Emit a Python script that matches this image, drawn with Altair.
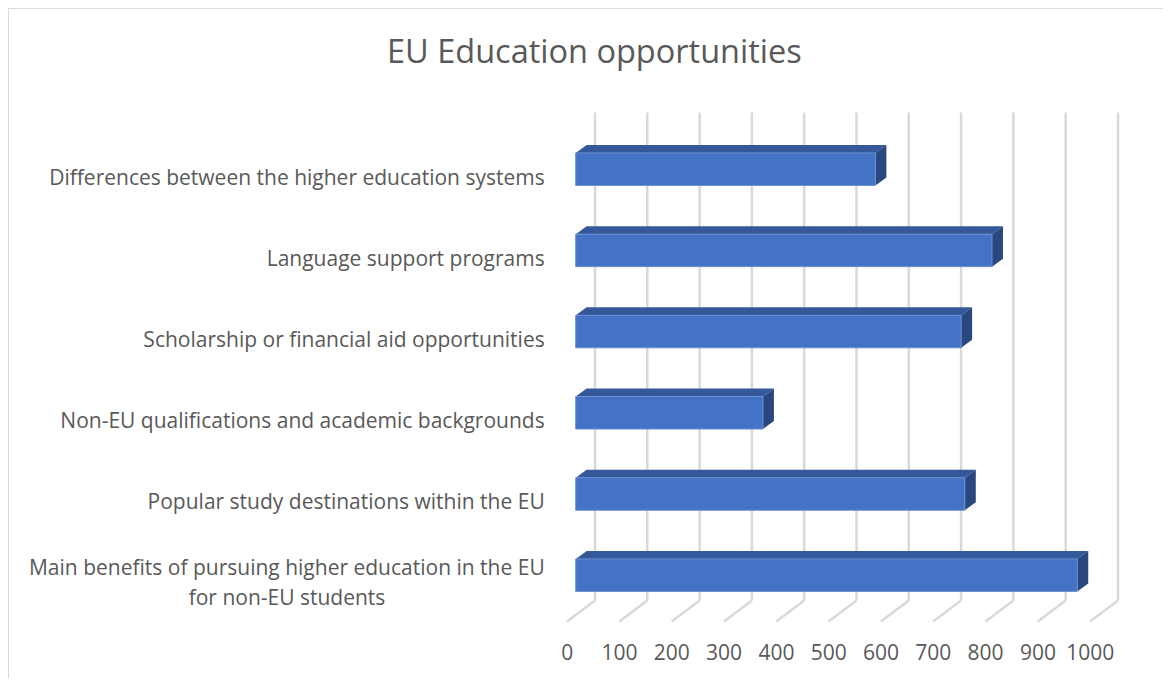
import altair as alt
import pandas as pd

categories = [
    "Differences between the higher education systems",
    "Language support programs",
    "Scholarship or financial aid opportunities",
    "Non-EU qualifications and academic backgrounds",
    "Popular study destinations within the EU",
    "Main benefits of pursuing higher education in the EU",
]
second_line = ["", "", "", "", "", "for non-EU students"]
values = [573, 796, 737, 358, 744, 959]
ticks = list(range(0, 1001, 100))

# 3-D box geometry, in axis units (x: value units, y: category slots)
BAR_DX, BAR_DY, HALF = 21.0, 0.0985, 0.2
GRID_BACK, GRID_FRONT = 36.9, -16.6
GRID_TOP, GRID_BOTTOM, FLOOR_DY = -0.697, 5.313, 0.2586

X_DOMAIN = [-1085.47, 1122.95]
Y_DOMAIN = [-1.985, 6.266]
x_scale = alt.Scale(domain=X_DOMAIN, nice=False, zero=False)
y_scale = alt.Scale(domain=Y_DOMAIN, nice=False, zero=False, reverse=True)

GRID = "#D9D9D9"
FRONT, TOP, SIDE = "#4472C4", "#34589A", "#2A4880"
TEXT = "#595959"
FONT = "Open Sans"
LABEL_SIZE = 21

bars = pd.DataFrame({"cat": categories, "line2": second_line, "v": values})
bars["s"] = range(len(bars))
bars["zero"] = 0
bars["top"] = bars.s - HALF
bars["bot"] = bars.s + HALF

grid = pd.DataFrame({"t": ticks})
grid["back"] = grid.t + GRID_BACK
grid["front"] = grid.t + GRID_FRONT
grid["y1"] = GRID_TOP
grid["y2"] = GRID_BOTTOM
grid["y3"] = GRID_BOTTOM + FLOOR_DY

top_rows, side_rows = [], []
for i, v in enumerate(values):
    top_rows.append({"i": i, "y": i - HALF, "a": 0, "b": v})
    top_rows.append({"i": i, "y": i - HALF - BAR_DY, "a": BAR_DX, "b": v + BAR_DX})
    side_rows.append({"i": i, "x": v, "a": i - HALF, "b": i + HALF})
    side_rows.append({"i": i, "x": v + BAR_DX, "a": i - HALF - BAR_DY, "b": i + HALF - BAR_DY})
top_df = pd.DataFrame(top_rows)
side_df = pd.DataFrame(side_rows)

frame_src = pd.DataFrame({"f": [0]})
frame_left = alt.Chart(frame_src).mark_rule(color=GRID, strokeWidth=2).encode(
    x=alt.value(0), y=alt.value(0), y2=alt.value(670))
frame_top = alt.Chart(frame_src).mark_rule(color=GRID, strokeWidth=2).encode(
    y=alt.value(0), x=alt.value(0), x2=alt.value(1155))

# the real x axis: ticks at value positions, labels moved onto the front of the floor
axis_layer = alt.Chart(grid).mark_point(opacity=0).encode(
    x=alt.X("t:Q", scale=x_scale, title=None,
            axis=alt.Axis(values=ticks, orient="bottom", domain=False, ticks=False, grid=False,
                          format="d", labelFont=FONT, labelFontSize=21, labelColor=TEXT,
                          labelOffset=-9, offset=-36, labelPadding=0, labelFlush=False,
                          labelOverlap=False)),
    y=alt.Y("y1:Q", scale=y_scale, axis=None),
)
grid_back = alt.Chart(grid).mark_rule(color=GRID, strokeWidth=2.5).encode(
    x=alt.X("back:Q", scale=x_scale),
    y=alt.Y("y1:Q", scale=y_scale),
    y2="y2:Q",
)
grid_floor = alt.Chart(grid).mark_rule(color=GRID, strokeWidth=2.5).encode(
    x=alt.X("back:Q", scale=x_scale),
    x2="front:Q",
    y=alt.Y("y2:Q", scale=y_scale),
    y2="y3:Q",
)
top_face = alt.Chart(top_df).mark_area(orient="horizontal", color=TOP).encode(
    y=alt.Y("y:Q", scale=y_scale),
    x=alt.X("a:Q", scale=x_scale),
    x2="b:Q",
    detail="i:N",
)
side_face = alt.Chart(side_df).mark_area(orient="vertical", color=SIDE).encode(
    x=alt.X("x:Q", scale=x_scale),
    y=alt.Y("a:Q", scale=y_scale),
    y2="b:Q",
    detail="i:N",
)
front_face = alt.Chart(bars).mark_rect(color=FRONT, stroke="#6A8FD2", strokeWidth=1).encode(
    x=alt.X("zero:Q", scale=x_scale),
    x2="v:Q",
    y=alt.Y("top:Q", scale=y_scale),
    y2="bot:Q",
)
labels = alt.Chart(bars).mark_text(
    align="right", baseline="middle", font=FONT, fontSize=LABEL_SIZE, color=TEXT, dx=-31, dy=9.5
).transform_filter("datum.s < 5").encode(
    x=alt.X("zero:Q", scale=x_scale),
    y=alt.Y("s:Q", scale=y_scale),
    text="cat:N",
)
label_main = alt.Chart(bars).mark_text(
    align="right", baseline="middle", font=FONT, fontSize=LABEL_SIZE, color=TEXT, dx=-31, dy=-6
).transform_filter("datum.s == 5").encode(
    x=alt.X("zero:Q", scale=x_scale),
    y=alt.Y("s:Q", scale=y_scale),
    text="cat:N",
)
label_second = alt.Chart(bars).mark_text(
    align="center", baseline="middle", font=FONT, fontSize=LABEL_SIZE, color=TEXT, dx=-288.7, dy=24
).transform_filter("datum.s == 5").encode(
    x=alt.X("zero:Q", scale=x_scale),
    y=alt.Y("s:Q", scale=y_scale),
    text="line2:N",
)

chart = alt.layer(
    frame_left, frame_top, axis_layer, grid_back, grid_floor, top_face, side_face, front_face,
    labels, label_main, label_second
).properties(
    width=1155, height=670,
    autosize=alt.AutoSizeParams(type="none"),
    padding=0,
    title=alt.Title("EU Education opportunities", font=FONT, fontSize=32.5, fontWeight="normal",
                    color=TEXT, anchor="start", offset=-78, baseline="middle", dx=380),
).configure_view(stroke=None).configure_axis(grid=False)

chart.save("out.html", embed_options={"renderer": "svg", "actions": False})
